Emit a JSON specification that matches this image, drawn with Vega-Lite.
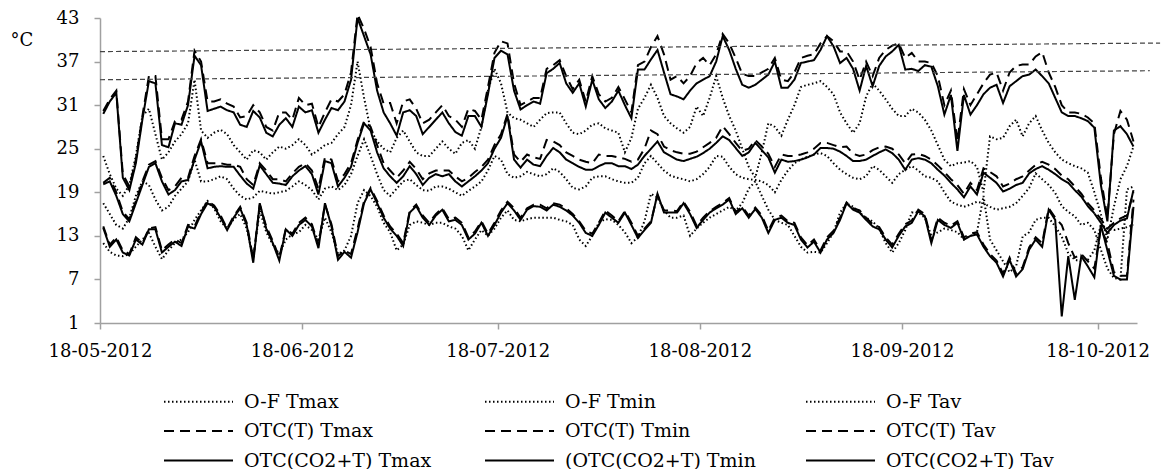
{
"$schema":"https://vega.github.io/schema/vega-lite/v6.json",
"width":1037,"height":305,
"autosize":{"type":"none"},
"padding":{"left":100,"top":18,"right":27,"bottom":146},
"background":"white",
"config":{"view":{"stroke":null},"font":"DejaVu Serif"},
"datasets":{
"series":[
{"key":"ofmax","label":"O-F Tmax"},{"key":"ofmin","label":"O-F Tmin"},{"key":"ofav","label":"O-F Tav"},
{"key":"tmax","label":"OTC(T) Tmax"},{"key":"tmin","label":"OTC(T) Tmin"},{"key":"tav","label":"OTC(T) Tav"},
{"key":"cmax","label":"OTC(CO2+T) Tmax"},{"key":"cmin","label":"(OTC(CO2+T) Tmin"},{"key":"cav","label":"OTC(CO2+T) Tav"}],
"refs":[
{"x0":"2012-05-18T00:00","x1":"2012-10-27T14:00","y0":38.37,"y1":39.55},
{"x0":"2012-05-18T00:00","x1":"2012-10-26T00:00","y0":34.5,"y1":35.74}],
"temps":[
{"t":"2012-05-18T12:00","ofmax":24,"ofmin":12,"ofav":17.5,"tmax":30.2,"tmin":14.3,"tav":20.3,"cmax":29.8,"cmin":14.1,"cav":20.1},
{"t":"2012-05-19T12:00","ofmax":21.5,"ofmin":10.8,"ofav":16,"tmax":31.8,"tmin":11.8,"tav":21,"cmax":31.5,"cmin":11.5,"cav":20.5},
{"t":"2012-05-20T12:00","ofmax":19.5,"ofmin":10.3,"ofav":14.5,"tmax":33,"tmin":12.8,"tav":19,"cmax":32.7,"cmin":12.5,"cav":18.5},
{"t":"2012-05-21T12:00","ofmax":18.5,"ofmin":10.2,"ofav":14,"tmax":21.5,"tmin":11,"tav":16.3,"cmax":21,"cmin":10.7,"cav":16},
{"t":"2012-05-22T12:00","ofmax":20,"ofmin":10.5,"ofav":15.5,"tmax":19.8,"tmin":10.5,"tav":15.3,"cmax":19.3,"cmin":10.3,"cav":15},
{"t":"2012-05-23T12:00","ofmax":24,"ofmin":11.5,"ofav":18.5,"tmax":23.5,"tmin":12.8,"tav":17.8,"cmax":23,"cmin":12.5,"cav":17.5},
{"t":"2012-05-24T12:00","ofmax":29.5,"ofmin":12.5,"ofav":20.5,"tmax":29.5,"tmin":12,"tav":20.5,"cmax":29,"cmin":11.8,"cav":20},
{"t":"2012-05-25T12:00","ofmax":30.5,"ofmin":13.4,"ofav":20,"tmax":35,"tmin":14,"tav":22.8,"cmax":34.3,"cmin":13.9,"cav":22.5},
{"t":"2012-05-26T12:00","ofmax":27,"ofmin":11.5,"ofav":18,"tmax":35,"tmin":14.2,"tav":23.3,"cmax":34,"cmin":13.9,"cav":23},
{"t":"2012-05-27T12:00","ofmax":23.5,"ofmin":9.8,"ofav":16.5,"tmax":26.3,"tmin":11,"tav":21,"cmax":25.5,"cmin":10.7,"cav":20.5},
{"t":"2012-05-28T12:00","ofmax":24.5,"ofmin":11,"ofav":17,"tmax":26.3,"tmin":11.8,"tav":19.3,"cmax":25.2,"cmin":11.5,"cav":18.7},
{"t":"2012-05-29T12:00","ofmax":26,"ofmin":12,"ofav":18.5,"tmax":28.8,"tmin":12.5,"tav":19.8,"cmax":28.5,"cmin":12.2,"cav":19.3},
{"t":"2012-05-30T12:00","ofmax":27,"ofmin":12.5,"ofav":19.5,"tmax":29,"tmin":12,"tav":21,"cmax":28.3,"cmin":11.6,"cav":20.5},
{"t":"2012-05-31T12:00","ofmax":28.5,"ofmin":13.5,"ofav":20.5,"tmax":31.5,"tmin":14.5,"tav":21,"cmax":31,"cmin":14.3,"cav":20.7},
{"t":"2012-06-01T12:00","ofmax":34.5,"ofmin":15.2,"ofav":23.5,"tmax":38.5,"tmin":14.3,"tav":24,"cmax":37.8,"cmin":14,"cav":23.5},
{"t":"2012-06-02T12:00","ofmax":27.5,"ofmin":16.5,"ofav":20.5,"tmax":37,"tmin":16.3,"tav":26.3,"cmax":36.5,"cmin":16,"cav":26},
{"t":"2012-06-03T12:00","ofmax":26.5,"ofmin":17.8,"ofav":20.5,"tmax":31.5,"tmin":17.8,"tav":23,"cmax":30.2,"cmin":17.5,"cav":22.3},
{"t":"2012-06-04T12:00","ofmax":27.2,"ofmin":16.8,"ofav":20.8,"tmax":31.5,"tmin":17.2,"tav":23,"cmax":30.5,"cmin":17,"cav":22.5},
{"t":"2012-06-05T12:00","ofmax":27.6,"ofmin":15,"ofav":21.2,"tmax":31.8,"tmin":15.8,"tav":23,"cmax":30.8,"cmin":15.5,"cav":22.6},
{"t":"2012-06-06T12:00","ofmax":27,"ofmin":14,"ofav":20.8,"tmax":31.2,"tmin":14,"tav":22.8,"cmax":30.3,"cmin":13.8,"cav":22.5},
{"t":"2012-06-07T12:00","ofmax":25.5,"ofmin":15.3,"ofav":19.5,"tmax":30.8,"tmin":15.7,"tav":22.8,"cmax":30,"cmin":15.5,"cav":22.5},
{"t":"2012-06-08T12:00","ofmax":24.5,"ofmin":16,"ofav":18.5,"tmax":29.3,"tmin":17,"tav":22.5,"cmax":28.3,"cmin":16.8,"cav":21.3},
{"t":"2012-06-09T12:00","ofmax":23.5,"ofmin":14,"ofav":18,"tmax":29.5,"tmin":14.8,"tav":20.8,"cmax":28,"cmin":14.5,"cav":20.2},
{"t":"2012-06-10T12:00","ofmax":24.8,"ofmin":10,"ofav":18.3,"tmax":31,"tmin":9.8,"tav":20,"cmax":30.2,"cmin":9.3,"cav":19.5},
{"t":"2012-06-11T12:00","ofmax":24.5,"ofmin":16.5,"ofav":19.2,"tmax":30,"tmin":17.3,"tav":23,"cmax":29.3,"cmin":17.5,"cav":22.7},
{"t":"2012-06-12T12:00","ofmax":23.5,"ofmin":13.5,"ofav":19,"tmax":28,"tmin":14.3,"tav":22,"cmax":27.2,"cmin":14,"cav":21.5},
{"t":"2012-06-13T12:00","ofmax":24.5,"ofmin":11.8,"ofav":18.8,"tmax":27.5,"tmin":12.3,"tav":20.8,"cmax":26.7,"cmin":12,"cav":20.3},
{"t":"2012-06-14T12:00","ofmax":25.3,"ofmin":10.5,"ofav":19,"tmax":30,"tmin":10,"tav":20.8,"cmax":28.3,"cmin":9.6,"cav":20.2},
{"t":"2012-06-15T12:00","ofmax":25,"ofmin":12.5,"ofav":19.2,"tmax":30,"tmin":14,"tav":20.5,"cmax":29.2,"cmin":13.9,"cav":20},
{"t":"2012-06-16T12:00","ofmax":25.5,"ofmin":13.2,"ofav":19.8,"tmax":29,"tmin":13.3,"tav":21.6,"cmax":28,"cmin":13,"cav":21.2},
{"t":"2012-06-17T12:00","ofmax":26.3,"ofmin":13.5,"ofav":20.5,"tmax":32,"tmin":14.8,"tav":22.5,"cmax":30.8,"cmin":14.5,"cav":22},
{"t":"2012-06-18T12:00","ofmax":25.5,"ofmin":14.5,"ofav":20,"tmax":31,"tmin":15.5,"tav":23,"cmax":30,"cmin":15.2,"cav":22.6},
{"t":"2012-06-19T12:00","ofmax":24.2,"ofmin":13.8,"ofav":19.3,"tmax":31.2,"tmin":14.6,"tav":22,"cmax":30.3,"cmin":14.3,"cav":21.5},
{"t":"2012-06-20T12:00","ofmax":24.8,"ofmin":12.5,"ofav":18,"tmax":28,"tmin":11.8,"tav":19.5,"cmax":27.2,"cmin":11.3,"cav":18.7},
{"t":"2012-06-21T12:00","ofmax":25.5,"ofmin":15.5,"ofav":19.5,"tmax":30,"tmin":17.3,"tav":23.8,"cmax":29,"cmin":17.5,"cav":23.3},
{"t":"2012-06-22T12:00","ofmax":25.8,"ofmin":13.5,"ofav":19.8,"tmax":31.8,"tmin":14.6,"tav":23.5,"cmax":30.6,"cmin":14.3,"cav":23},
{"t":"2012-06-23T12:00","ofmax":27,"ofmin":10.5,"ofav":19.3,"tmax":31.5,"tmin":10.2,"tav":20.5,"cmax":30.3,"cmin":9.7,"cav":19.8},
{"t":"2012-06-24T12:00","ofmax":28,"ofmin":11,"ofav":20,"tmax":32.5,"tmin":11,"tav":21.5,"cmax":31.5,"cmin":10.8,"cav":21},
{"t":"2012-06-25T12:00","ofmax":31,"ofmin":13,"ofav":21.5,"tmax":35.5,"tmin":10.5,"tav":23,"cmax":34.5,"cmin":10,"cav":22.5},
{"t":"2012-06-26T12:00","ofmax":37,"ofmin":17.5,"ofav":24,"tmax":43.5,"tmin":14,"tav":26.2,"cmax":43,"cmin":13.5,"cav":25.8},
{"t":"2012-06-27T12:00","ofmax":32,"ofmin":19.3,"ofav":26.3,"tmax":41.5,"tmin":17.8,"tav":28.8,"cmax":40.5,"cmin":17.5,"cav":28.5},
{"t":"2012-06-28T12:00","ofmax":27.6,"ofmin":18.5,"ofav":24,"tmax":39,"tmin":19.6,"tav":28,"cmax":38,"cmin":19.4,"cav":27.5},
{"t":"2012-06-29T12:00","ofmax":26,"ofmin":17,"ofav":21.5,"tmax":34,"tmin":17.8,"tav":25.5,"cmax":33,"cmin":17.5,"cav":24.5},
{"t":"2012-06-30T12:00","ofmax":25,"ofmin":14.8,"ofav":19.3,"tmax":31.2,"tmin":15.8,"tav":23,"cmax":30,"cmin":15.5,"cav":22.3},
{"t":"2012-07-01T12:00","ofmax":24.5,"ofmin":13.5,"ofav":18.5,"tmax":31.3,"tmin":14.3,"tav":22,"cmax":28.5,"cmin":14,"cav":21.2},
{"t":"2012-07-02T12:00","ofmax":26.5,"ofmin":11,"ofav":19.5,"tmax":28.5,"tmin":13.3,"tav":21,"cmax":26.8,"cmin":13,"cav":20.3},
{"t":"2012-07-03T12:00","ofmax":27.5,"ofmin":11.8,"ofav":20.5,"tmax":31.5,"tmin":12,"tav":22,"cmax":30,"cmin":11.6,"cav":21.2},
{"t":"2012-07-04T12:00","ofmax":26,"ofmin":14.5,"ofav":20.8,"tmax":31.8,"tmin":16.4,"tav":23.2,"cmax":30.3,"cmin":16.2,"cav":22.6},
{"t":"2012-07-05T12:00","ofmax":24.5,"ofmin":15,"ofav":20,"tmax":30.5,"tmin":17.3,"tav":22.2,"cmax":29.5,"cmin":17.1,"cav":21.5},
{"t":"2012-07-06T12:00","ofmax":24,"ofmin":14.8,"ofav":19.3,"tmax":28.5,"tmin":15.8,"tav":20.8,"cmax":27,"cmin":15.5,"cav":20},
{"t":"2012-07-07T12:00","ofmax":24,"ofmin":14.5,"ofav":19.2,"tmax":29,"tmin":14.8,"tav":21.6,"cmax":28,"cmin":14.5,"cav":21},
{"t":"2012-07-08T12:00","ofmax":25,"ofmin":14.8,"ofav":19.8,"tmax":30,"tmin":16,"tav":22,"cmax":29,"cmin":15.8,"cav":21.5},
{"t":"2012-07-09T12:00","ofmax":26,"ofmin":14.8,"ofav":19.8,"tmax":31,"tmin":16.8,"tav":22,"cmax":30,"cmin":16.6,"cav":21.2},
{"t":"2012-07-10T12:00","ofmax":25,"ofmin":14.3,"ofav":19.5,"tmax":29.5,"tmin":15.3,"tav":22,"cmax":28.5,"cmin":15,"cav":21.5},
{"t":"2012-07-11T12:00","ofmax":24.3,"ofmin":14,"ofav":19,"tmax":29,"tmin":15.5,"tav":21.2,"cmax":27.3,"cmin":15.2,"cav":20.5},
{"t":"2012-07-12T12:00","ofmax":25.8,"ofmin":13,"ofav":18.5,"tmax":28,"tmin":14.8,"tav":20.5,"cmax":26.8,"cmin":14.5,"cav":19.8},
{"t":"2012-07-13T12:00","ofmax":26.2,"ofmin":11,"ofav":19.2,"tmax":30.5,"tmin":12.8,"tav":21,"cmax":29.5,"cmin":12.5,"cav":20.5},
{"t":"2012-07-14T12:00","ofmax":25,"ofmin":12.5,"ofav":19.8,"tmax":30.2,"tmin":13.6,"tav":21.8,"cmax":29.5,"cmin":13.3,"cav":21.2},
{"t":"2012-07-15T12:00","ofmax":28,"ofmin":13.8,"ofav":20.5,"tmax":29,"tmin":15,"tav":22.5,"cmax":28,"cmin":14.8,"cav":22},
{"t":"2012-07-16T12:00","ofmax":33,"ofmin":13,"ofav":22,"tmax":33.5,"tmin":13.3,"tav":23.5,"cmax":32.5,"cmin":13,"cav":23},
{"t":"2012-07-17T12:00","ofmax":36,"ofmin":14,"ofav":24,"tmax":38.2,"tmin":14.8,"tav":25.5,"cmax":37.5,"cmin":14.5,"cav":25},
{"t":"2012-07-18T12:00","ofmax":34,"ofmin":15.5,"ofav":23.5,"tmax":39.8,"tmin":16.5,"tav":27,"cmax":38.5,"cmin":16.2,"cav":26.5},
{"t":"2012-07-19T12:00","ofmax":30,"ofmin":16.5,"ofav":21.5,"tmax":39.5,"tmin":17.7,"tav":29.8,"cmax":38,"cmin":17.5,"cav":29.5},
{"t":"2012-07-20T12:00","ofmax":29.2,"ofmin":15.2,"ofav":21,"tmax":34,"tmin":16.8,"tav":24.2,"cmax":33,"cmin":16.5,"cav":23.5},
{"t":"2012-07-21T12:00","ofmax":29,"ofmin":15,"ofav":21.2,"tmax":31,"tmin":15.5,"tav":23.2,"cmax":30.4,"cmin":15.2,"cav":22.4},
{"t":"2012-07-22T12:00","ofmax":28.5,"ofmin":15.3,"ofav":21.8,"tmax":31.5,"tmin":16.8,"tav":24.2,"cmax":31,"cmin":16.6,"cav":23.5},
{"t":"2012-07-23T12:00","ofmax":28,"ofmin":15.5,"ofav":21.5,"tmax":32,"tmin":17.3,"tav":23.8,"cmax":31.5,"cmin":17.1,"cav":22.8},
{"t":"2012-07-24T12:00","ofmax":29,"ofmin":15.5,"ofav":21.2,"tmax":32,"tmin":17.3,"tav":23.6,"cmax":31.2,"cmin":17,"cav":22.6},
{"t":"2012-07-25T12:00","ofmax":29.9,"ofmin":15.5,"ofav":21.5,"tmax":36,"tmin":16.8,"tav":26.2,"cmax":35.4,"cmin":16.5,"cav":24},
{"t":"2012-07-26T12:00","ofmax":30,"ofmin":15.5,"ofav":22.3,"tmax":36.5,"tmin":17.5,"tav":26,"cmax":36,"cmin":17.3,"cav":25.1},
{"t":"2012-07-27T12:00","ofmax":30,"ofmin":15.2,"ofav":21.8,"tmax":37.2,"tmin":17.3,"tav":25.5,"cmax":36.8,"cmin":17,"cav":24.5},
{"t":"2012-07-28T12:00","ofmax":28.5,"ofmin":15,"ofav":20.8,"tmax":35,"tmin":16.8,"tav":24.5,"cmax":34,"cmin":16.5,"cav":23.5},
{"t":"2012-07-29T12:00","ofmax":27.2,"ofmin":14.5,"ofav":19.6,"tmax":33.2,"tmin":16,"tav":24,"cmax":32.7,"cmin":15.8,"cav":23},
{"t":"2012-07-30T12:00","ofmax":27,"ofmin":12.5,"ofav":19.4,"tmax":34.5,"tmin":15,"tav":23.5,"cmax":34,"cmin":14.8,"cav":22.5},
{"t":"2012-07-31T12:00","ofmax":27.5,"ofmin":11.6,"ofav":19.8,"tmax":31.5,"tmin":13.7,"tav":23.2,"cmax":30.8,"cmin":13.4,"cav":22.1},
{"t":"2012-08-01T12:00","ofmax":28.3,"ofmin":13,"ofav":21,"tmax":35,"tmin":13.3,"tav":23,"cmax":34.5,"cmin":13,"cav":22.1},
{"t":"2012-08-02T12:00","ofmax":28.5,"ofmin":14.8,"ofav":21.2,"tmax":32.5,"tmin":14.8,"tav":24.2,"cmax":31.8,"cmin":14.5,"cav":22.6},
{"t":"2012-08-03T12:00","ofmax":27.8,"ofmin":15.3,"ofav":21.2,"tmax":31.5,"tmin":16.5,"tav":24,"cmax":30.6,"cmin":16.2,"cav":23},
{"t":"2012-08-04T12:00","ofmax":27.5,"ofmin":15.2,"ofav":20.8,"tmax":32,"tmin":15.8,"tav":24,"cmax":31.5,"cmin":15.5,"cav":23},
{"t":"2012-08-05T12:00","ofmax":27.2,"ofmin":14.5,"ofav":20.5,"tmax":33.5,"tmin":15,"tav":23.8,"cmax":33,"cmin":14.8,"cav":22.6},
{"t":"2012-08-06T12:00","ofmax":24.5,"ofmin":13.5,"ofav":20.3,"tmax":31.8,"tmin":16.4,"tav":23.6,"cmax":31,"cmin":16.2,"cav":22.6},
{"t":"2012-08-07T12:00","ofmax":26.5,"ofmin":12,"ofav":20.3,"tmax":30,"tmin":14.8,"tav":23.2,"cmax":29.2,"cmin":14.5,"cav":22.2},
{"t":"2012-08-08T12:00","ofmax":30.5,"ofmin":12.8,"ofav":21,"tmax":36.5,"tmin":13,"tav":23.5,"cmax":35.9,"cmin":12.7,"cav":22.8},
{"t":"2012-08-09T12:00","ofmax":32,"ofmin":15,"ofav":23,"tmax":37,"tmin":14,"tav":25,"cmax":35.9,"cmin":13.8,"cav":24},
{"t":"2012-08-10T12:00","ofmax":33.8,"ofmin":18.8,"ofav":24,"tmax":39,"tmin":15,"tav":27.5,"cmax":37.3,"cmin":14.8,"cav":25},
{"t":"2012-08-11T12:00","ofmax":32,"ofmin":18.3,"ofav":23,"tmax":40.5,"tmin":18.6,"tav":27,"cmax":38.6,"cmin":18.8,"cav":26},
{"t":"2012-08-12T12:00","ofmax":29.5,"ofmin":16.5,"ofav":22,"tmax":38,"tmin":16.5,"tav":25.3,"cmax":35.5,"cmin":16.2,"cav":24.5},
{"t":"2012-08-13T12:00","ofmax":28.5,"ofmin":15.5,"ofav":21.3,"tmax":34.5,"tmin":16.5,"tav":24.8,"cmax":32.5,"cmin":16.2,"cav":24},
{"t":"2012-08-14T12:00","ofmax":27.8,"ofmin":15.5,"ofav":21,"tmax":35,"tmin":16.4,"tav":24.5,"cmax":32.2,"cmin":16.2,"cav":23.5},
{"t":"2012-08-15T12:00","ofmax":27.2,"ofmin":15.8,"ofav":20.8,"tmax":34,"tmin":17.7,"tav":24.3,"cmax":31.8,"cmin":17.5,"cav":23.3},
{"t":"2012-08-16T12:00","ofmax":28,"ofmin":13,"ofav":20.5,"tmax":35,"tmin":16.3,"tav":24.3,"cmax":33,"cmin":16,"cav":23.6},
{"t":"2012-08-17T12:00","ofmax":30.8,"ofmin":14,"ofav":20.8,"tmax":36.8,"tmin":14.4,"tav":24.6,"cmax":34,"cmin":14.1,"cav":23.9},
{"t":"2012-08-18T12:00","ofmax":29.5,"ofmin":14.8,"ofav":21.5,"tmax":37.5,"tmin":15.5,"tav":25.2,"cmax":34.5,"cmin":15.2,"cav":24.4},
{"t":"2012-08-19T12:00","ofmax":32,"ofmin":15.5,"ofav":22.5,"tmax":36.5,"tmin":16.4,"tav":25.8,"cmax":35,"cmin":16.2,"cav":25},
{"t":"2012-08-20T12:00","ofmax":35,"ofmin":16,"ofav":24,"tmax":38,"tmin":17,"tav":26.5,"cmax":37,"cmin":16.8,"cav":25.8},
{"t":"2012-08-21T12:00","ofmax":32,"ofmin":16.5,"ofav":23.9,"tmax":40.8,"tmin":17.5,"tav":28.1,"cmax":40.5,"cmin":17.3,"cav":26.7},
{"t":"2012-08-22T12:00","ofmax":29.5,"ofmin":17,"ofav":22.5,"tmax":39.5,"tmin":18.2,"tav":27,"cmax":38.6,"cmin":18,"cav":26.2},
{"t":"2012-08-23T12:00","ofmax":27.5,"ofmin":16.5,"ofav":21.5,"tmax":37.5,"tmin":16.3,"tav":25.8,"cmax":36,"cmin":16,"cav":25.1},
{"t":"2012-08-24T12:00","ofmax":25,"ofmin":17.5,"ofav":21,"tmax":35.3,"tmin":17,"tav":24.7,"cmax":33.8,"cmin":16.8,"cav":24},
{"t":"2012-08-25T12:00","ofmax":22.5,"ofmin":19.5,"ofav":20.8,"tmax":35,"tmin":15.8,"tav":25,"cmax":33.4,"cmin":15.5,"cav":24.5},
{"t":"2012-08-26T12:00","ofmax":21,"ofmin":20.5,"ofav":20.7,"tmax":35,"tmin":16.9,"tav":26.2,"cmax":33.8,"cmin":16.7,"cav":25.8},
{"t":"2012-08-27T12:00","ofmax":24.5,"ofmin":18.5,"ofav":20.5,"tmax":35.5,"tmin":15.8,"tav":25.3,"cmax":34.5,"cmin":15.5,"cav":24.8},
{"t":"2012-08-28T12:00","ofmax":28.5,"ofmin":16.6,"ofav":20,"tmax":36,"tmin":13.7,"tav":24.3,"cmax":35.2,"cmin":13.4,"cav":23.8},
{"t":"2012-08-29T12:00","ofmax":28,"ofmin":15.2,"ofav":19,"tmax":37.5,"tmin":15.5,"tav":22.5,"cmax":37,"cmin":15.2,"cav":21.7},
{"t":"2012-08-30T12:00","ofmax":26.8,"ofmin":14.8,"ofav":20.7,"tmax":34.5,"tmin":15.8,"tav":24.2,"cmax":33.4,"cmin":15.5,"cav":23.5},
{"t":"2012-08-31T12:00","ofmax":29,"ofmin":14.5,"ofav":22,"tmax":34.3,"tmin":15,"tav":24,"cmax":33.4,"cmin":14.8,"cav":23.2},
{"t":"2012-09-01T12:00","ofmax":31,"ofmin":13,"ofav":23,"tmax":35.5,"tmin":14.8,"tav":24,"cmax":34.5,"cmin":14.5,"cav":23.3},
{"t":"2012-09-02T12:00","ofmax":33.5,"ofmin":11.5,"ofav":23.5,"tmax":37.5,"tmin":12.8,"tav":24.2,"cmax":36.8,"cmin":12.5,"cav":23.5},
{"t":"2012-09-03T12:00","ofmax":33.8,"ofmin":10.7,"ofav":23.9,"tmax":37.8,"tmin":11.7,"tav":24.5,"cmax":37,"cmin":11.4,"cav":23.8},
{"t":"2012-09-04T12:00","ofmax":34,"ofmin":10.8,"ofav":24.2,"tmax":38,"tmin":12.5,"tav":25,"cmax":37.2,"cmin":12.2,"cav":24.2},
{"t":"2012-09-05T12:00","ofmax":34.3,"ofmin":10.7,"ofav":24.4,"tmax":39.5,"tmin":11,"tav":25.8,"cmax":38.6,"cmin":10.7,"cav":25.1},
{"t":"2012-09-06T12:00","ofmax":33.5,"ofmin":12,"ofav":24,"tmax":40.5,"tmin":12.8,"tav":25.8,"cmax":40.5,"cmin":12.5,"cav":25.1},
{"t":"2012-09-07T12:00","ofmax":32.5,"ofmin":13.5,"ofav":23,"tmax":39.8,"tmin":13.7,"tav":25.5,"cmax":39.1,"cmin":13.4,"cav":25},
{"t":"2012-09-08T12:00","ofmax":30,"ofmin":16.2,"ofav":22.1,"tmax":38.4,"tmin":15.5,"tav":25.2,"cmax":36.8,"cmin":15.2,"cav":24.6},
{"t":"2012-09-09T12:00","ofmax":28.5,"ofmin":17.5,"ofav":21.5,"tmax":38.4,"tmin":17.6,"tav":25.3,"cmax":37.5,"cmin":17.5,"cav":24},
{"t":"2012-09-10T12:00","ofmax":27.2,"ofmin":17,"ofav":21,"tmax":37,"tmin":16.8,"tav":24.3,"cmax":36,"cmin":16.6,"cav":23.3},
{"t":"2012-09-11T12:00","ofmax":28.5,"ofmin":16.2,"ofav":20.8,"tmax":34.5,"tmin":16.5,"tav":24,"cmax":33,"cmin":16.2,"cav":23.3},
{"t":"2012-09-12T12:00","ofmax":32.2,"ofmin":15.5,"ofav":21.2,"tmax":37,"tmin":15.5,"tav":24.2,"cmax":36.4,"cmin":15.2,"cav":23.5},
{"t":"2012-09-13T12:00","ofmax":34,"ofmin":15,"ofav":22.6,"tmax":35,"tmin":14.6,"tav":24.8,"cmax":33.6,"cmin":14.3,"cav":24},
{"t":"2012-09-14T12:00","ofmax":33,"ofmin":14,"ofav":22.1,"tmax":37.5,"tmin":14.2,"tav":25.2,"cmax":36.4,"cmin":13.9,"cav":24.5},
{"t":"2012-09-15T12:00","ofmax":31.8,"ofmin":12,"ofav":21.2,"tmax":38.6,"tmin":12.8,"tav":25.3,"cmax":37.7,"cmin":12.5,"cav":24.9},
{"t":"2012-09-16T12:00","ofmax":30.5,"ofmin":10.7,"ofav":20.3,"tmax":39.2,"tmin":11.8,"tav":25,"cmax":38.4,"cmin":11.4,"cav":24.4},
{"t":"2012-09-17T12:00","ofmax":29.5,"ofmin":12,"ofav":21.5,"tmax":39.5,"tmin":13.3,"tav":24.2,"cmax":39.3,"cmin":13,"cav":23.5},
{"t":"2012-09-18T12:00","ofmax":29.5,"ofmin":13.8,"ofav":22.1,"tmax":37.5,"tmin":14.6,"tav":23,"cmax":35.9,"cmin":14.3,"cav":22.1},
{"t":"2012-09-19T12:00","ofmax":30.5,"ofmin":16.2,"ofav":22.6,"tmax":38.2,"tmin":15.1,"tav":24.2,"cmax":36,"cmin":14.8,"cav":23.5},
{"t":"2012-09-20T12:00","ofmax":30,"ofmin":16.2,"ofav":22,"tmax":37,"tmin":16.6,"tav":24.3,"cmax":35.7,"cmin":16.4,"cav":23.7},
{"t":"2012-09-21T12:00","ofmax":29,"ofmin":15.5,"ofav":21.2,"tmax":37,"tmin":16,"tav":24,"cmax":36.5,"cmin":15.7,"cav":23.5},
{"t":"2012-09-22T12:00","ofmax":27.5,"ofmin":13,"ofav":21,"tmax":36.8,"tmin":12.4,"tav":23.5,"cmax":36.3,"cmin":12,"cav":23},
{"t":"2012-09-23T12:00","ofmax":25.5,"ofmin":13.5,"ofav":20.5,"tmax":35,"tmin":15.5,"tav":22.7,"cmax":33.6,"cmin":15.2,"cav":22.1},
{"t":"2012-09-24T12:00","ofmax":23.5,"ofmin":14,"ofav":19,"tmax":31,"tmin":14.8,"tav":21.8,"cmax":29.7,"cmin":14.5,"cav":21.3},
{"t":"2012-09-25T12:00","ofmax":22.6,"ofmin":13.8,"ofav":17.7,"tmax":33,"tmin":14.4,"tav":20.8,"cmax":32.4,"cmin":14.1,"cav":20.3},
{"t":"2012-09-26T12:00","ofmax":23,"ofmin":13.5,"ofav":17.3,"tmax":26,"tmin":15,"tav":20,"cmax":24.7,"cmin":14.8,"cav":19.4},
{"t":"2012-09-27T12:00","ofmax":23.1,"ofmin":12.5,"ofav":17,"tmax":33.2,"tmin":12.8,"tav":18.8,"cmax":32.4,"cmin":12.5,"cav":18.3},
{"t":"2012-09-28T12:00","ofmax":23.3,"ofmin":13,"ofav":17.3,"tmax":31,"tmin":13.3,"tav":20.3,"cmax":29.7,"cmin":13,"cav":19.8},
{"t":"2012-09-29T12:00","ofmax":22.5,"ofmin":13.5,"ofav":17.7,"tmax":32.5,"tmin":13.5,"tav":19.3,"cmax":31,"cmin":13.2,"cav":18.7},
{"t":"2012-09-30T12:00","ofmax":19,"ofmin":18.5,"ofav":17.5,"tmax":34,"tmin":11.8,"tav":22.3,"cmax":32.5,"cmin":11.5,"cav":21.7},
{"t":"2012-10-01T12:00","ofmax":26.7,"ofmin":12.5,"ofav":17,"tmax":35.2,"tmin":10.5,"tav":21.8,"cmax":33.4,"cmin":10.2,"cav":21},
{"t":"2012-10-02T12:00","ofmax":26.3,"ofmin":11,"ofav":16.6,"tmax":35.5,"tmin":9.6,"tav":21.2,"cmax":33.8,"cmin":9.3,"cav":20.3},
{"t":"2012-10-03T12:00","ofmax":26.5,"ofmin":9.5,"ofav":16.8,"tmax":33,"tmin":7.8,"tav":19.8,"cmax":31.3,"cmin":7.4,"cav":19.1},
{"t":"2012-10-04T12:00","ofmax":28.1,"ofmin":8,"ofav":17,"tmax":35.5,"tmin":10,"tav":20.2,"cmax":33.6,"cmin":9.7,"cav":19.5},
{"t":"2012-10-05T12:00","ofmax":29,"ofmin":8.8,"ofav":17.5,"tmax":36.4,"tmin":7.8,"tav":20.8,"cmax":34.3,"cmin":7.4,"cav":20},
{"t":"2012-10-06T12:00","ofmax":26.7,"ofmin":12.9,"ofav":18.5,"tmax":36.6,"tmin":8.7,"tav":21.2,"cmax":35,"cmin":8.4,"cav":20.3},
{"t":"2012-10-07T12:00","ofmax":28.5,"ofmin":13.5,"ofav":19.6,"tmax":36.6,"tmin":11.4,"tav":22,"cmax":35.2,"cmin":11.1,"cav":21.6},
{"t":"2012-10-08T12:00","ofmax":29.5,"ofmin":15.2,"ofav":21.6,"tmax":37.7,"tmin":12.8,"tav":22.8,"cmax":35.9,"cmin":12.5,"cav":22.2},
{"t":"2012-10-09T12:00","ofmax":27.5,"ofmin":15.5,"ofav":20.8,"tmax":38.3,"tmin":12,"tav":23.2,"cmax":35,"cmin":11.5,"cav":22.6},
{"t":"2012-10-10T12:00","ofmax":25.8,"ofmin":15.5,"ofav":20,"tmax":35.5,"tmin":16.8,"tav":22.8,"cmax":34,"cmin":16.6,"cav":22.1},
{"t":"2012-10-11T12:00","ofmax":24.5,"ofmin":14.3,"ofav":18.9,"tmax":33.5,"tmin":15.5,"tav":22.2,"cmax":32,"cmin":15.2,"cav":21.5},
{"t":"2012-10-12T12:00","ofmax":23.5,"ofmin":12.9,"ofav":17.1,"tmax":31,"tmin":14.5,"tav":21.3,"cmax":30,"cmin":1.9,"cav":20.8},
{"t":"2012-10-13T12:00","ofmax":23,"ofmin":10.6,"ofav":16.3,"tmax":30,"tmin":12,"tav":20.8,"cmax":29.5,"cmin":10.2,"cav":20.3},
{"t":"2012-10-14T12:00","ofmax":22.6,"ofmin":9.7,"ofav":15.7,"tmax":30,"tmin":10,"tav":19.8,"cmax":29.5,"cmin":4.2,"cav":19.3},
{"t":"2012-10-15T12:00","ofmax":22.3,"ofmin":9.5,"ofav":14.5,"tmax":29.8,"tmin":10.5,"tav":18.8,"cmax":29.2,"cmin":10.2,"cav":18.4},
{"t":"2012-10-16T12:00","ofmax":21.7,"ofmin":9.7,"ofav":14.8,"tmax":29.3,"tmin":9.5,"tav":17.5,"cmax":28.8,"cmin":8.8,"cav":17.1},
{"t":"2012-10-17T12:00","ofmax":19,"ofmin":11,"ofav":13.8,"tmax":28.5,"tmin":8.5,"tav":16.5,"cmax":27.9,"cmin":7.3,"cav":16.1},
{"t":"2012-10-18T12:00","ofmax":16,"ofmin":14.5,"ofav":11.1,"tmax":21,"tmin":14,"tav":15.3,"cmax":20,"cmin":14.5,"cav":14.8},
{"t":"2012-10-19T12:00","ofmax":12.5,"ofmin":14,"ofav":8.5,"tmax":15.5,"tmin":12,"tav":14,"cmax":15,"cmin":11,"cav":13.4},
{"t":"2012-10-20T12:00","ofmax":17,"ofmin":13.8,"ofav":7.2,"tmax":27,"tmin":8,"tav":14.8,"cmax":27.5,"cmin":7.5,"cav":14.5},
{"t":"2012-10-21T12:00","ofmax":20.8,"ofmin":14,"ofav":7,"tmax":30.2,"tmin":7.5,"tav":15.4,"cmax":28.1,"cmin":7,"cav":15.1},
{"t":"2012-10-22T12:00","ofmax":22.6,"ofmin":14.2,"ofav":19.4,"tmax":29,"tmin":7.5,"tav":15.8,"cmax":27,"cmin":7,"cav":15.4},
{"t":"2012-10-23T12:00","ofmax":25.3,"ofmin":14.5,"ofav":19.8,"tmax":26,"tmin":18,"tav":19,"cmax":25.3,"cmin":17,"cav":19.3}
]},
"layer":[
{
"data":{"name":"temps"},
"transform":[
{"fold":["ofmax","ofmin","ofav","tmax","tmin","tav","cmax","cmin","cav"],"as":["key","value"]},
{"lookup":"key","from":{"data":{"name":"series"},"key":"key","fields":["label"]}}
],
"mark":{"type":"line","color":"#000","strokeWidth":2},
"encoding":{
"x":{"field":"t","type":"temporal",
 "scale":{"domain":[{"year":2012,"month":5,"date":18},{"year":2012,"month":10,"date":24,"hours":1}]},
 "axis":{"title":null,"grid":false,"values":[{"year":2012,"month":5,"date":18},{"year":2012,"month":6,"date":18},{"year":2012,"month":7,"date":18},{"year":2012,"month":8,"date":18},{"year":2012,"month":9,"date":18},{"year":2012,"month":10,"date":18}],
  "format":"%d-%m-%Y","labelFont":"DejaVu Serif","labelFontSize":18,"labelColor":"#000","labelPadding":13,"labelOverlap":false,"labelFlush":false,
  "domainColor":"#a0a0a0","domainWidth":1.5,"tickColor":"#a0a0a0","tickSize":6,"tickWidth":1.5}},
"y":{"field":"value","type":"quantitative",
 "scale":{"domain":[1,43],"nice":false,"zero":false},
 "axis":{"values":[1,4,7,10,13,16,19,22,25,28,31,34,37,40,43],"grid":false,"labelOverlap":false,
  "title":"°C","titleAngle":0,"titleAlign":"left","titleBaseline":"middle","titleX":-90,"titleY":22,
  "titleFont":"DejaVu Serif","titleFontSize":18,"titleFontWeight":"normal","titleColor":"#000",
  "labelFont":"DejaVu Serif","labelFontSize":18,"labelColor":"#000","labelPadding":15,
  "domainColor":"#a0a0a0","domainWidth":1.5,"tickColor":"#a0a0a0","tickSize":6,"tickWidth":1.5}},
"strokeDash":{"field":"label","type":"nominal",
 "scale":{"domain":["O-F Tmax","O-F Tmin","O-F Tav","OTC(T) Tmax","OTC(T) Tmin","OTC(T) Tav","OTC(CO2+T) Tmax","(OTC(CO2+T) Tmin","OTC(CO2+T) Tav"],
  "range":[[1.5,2.5],[1.5,2.5],[1.5,2.5],[10,6],[10,6],[10,6],[1,0],[1,0],[1,0]]},
 "legend":{"orient":"none","legendX":63,"legendY":371,"direction":"horizontal","columns":3,"title":null,
  "symbolType":"M-1,0H5","symbolSize":529,"symbolStrokeWidth":2,"symbolStrokeColor":"#000","symbolFillColor":"transparent",
  "labelFont":"DejaVu Serif","labelFontSize":19,"labelColor":"#000","labelOffset":56,"labelLimit":400,
  "columnPadding":46,"rowPadding":6.5,"gridAlign":"all","padding":0}}
}
},
{
"data":{"name":"refs"},
"mark":{"type":"rule","color":"#444","strokeDash":[5,3],"strokeWidth":1.2},
"encoding":{
"x":{"field":"x0","type":"temporal"},
"x2":{"field":"x1"},
"y":{"field":"y0","type":"quantitative"},
"y2":{"field":"y1"}
}
}
]
}
